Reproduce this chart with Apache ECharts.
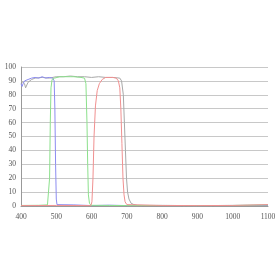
<!DOCTYPE html>
<html><head><meta charset="utf-8">
<script src="https://cdn.jsdelivr.net/npm/echarts@6/dist/echarts.min.js"></script>
<style>html,body{margin:0;padding:0;background:#fff}#c{width:280px;height:280px}</style>
</head><body><div id="c"></div>
<script>
const xTicks = [400,500,600,700,800,900,1000,1100];
const yTicks = [0,10,20,30,40,50,60,70,80,90,100];
const blueX = [400,403,406,410,420,430,440,450,460,470,480,490,494,496,498,500,502,505,550,600,650,700,800,900,1000,1100];
const blueY = [88,86,88,90,91,92,92.5,92,93,92,92.5,92,90,70,30,5,1,0.5,0.8,0.3,0.6,0.3,0.4,0.3,0.4,0.5];
const grayX = [400,405,410,413,416,420,425,430,440,460,480,500,520,540,560,580,600,620,640,660,680,685,690,693,696,699,702,706,712,720,730,800,900,1000,1100];
const grayY = [90,91,88,85,86,89,90,91,92,92.5,92,93,93,93.5,93,93,92.5,93,92.5,92.5,92,90,80,60,40,20,10,5,2,1,0.5,0.3,0.3,0.3,0.4];
const greenX = [400,450,475,478,481,483,485,488,495,510,530,550,570,580,584,587,589,591,594,598,650,700,800,900,1000,1100];
const greenY = [0.4,0.5,0.8,2,20,60,85,91,92,93,93,93,92.5,92,88,60,30,8,2,0.5,0.4,0.3,0.4,0.3,0.4,0.8];
const redX = [400,500,598,601,604,607,611,616,622,630,640,660,670,676,680,683,686,689,692,695,700,705,800,900,1000,1100];
const redY = [0.3,0.4,0.3,3,20,50,72,83,88,91,92.5,92.5,92,90,85,70,45,20,8,3,1,0.3,0.4,0.3,0.4,1];
const zip=(a,b)=>a.map((v,i)=>[v,b[i]]);
const chart = echarts.init(document.getElementById('c'));
const lbl = {color:'#555',fontFamily:'Liberation Serif',fontSize:7.5,formatter:v=>String(v)};
const mk=(name,x,y,color)=>({name,type:'line',data:zip(x,y),symbol:'none',lineStyle:{width:1,color},itemStyle:{color},animation:false});
chart.setOption({
  animation:false,
  grid:{left:21,right:12,top:67,bottom:74,containLabel:false},
  xAxis:{type:'value',min:400,max:1100,interval:100,
    axisLine:{lineStyle:{color:'#999'}},axisTick:{show:false},splitLine:{show:false},
    axisLabel:Object.assign({margin:7,showMaxLabel:true,hideOverlap:false},lbl)},
  yAxis:{type:'value',min:0,max:100,interval:10,
    axisLine:{show:true,lineStyle:{color:'#999'}},axisTick:{show:false},
    splitLine:{lineStyle:{color:'#c8c8c8'}},
    axisLabel:Object.assign({margin:5},lbl)},
  series:[mk('gray',grayX,grayY,'#a8a8a8'),mk('blue',blueX,blueY,'#8c8cf0'),mk('green',greenX,greenY,'#8ce08c'),mk('red',redX,redY,'#f09090')]
});
</script></body></html>
